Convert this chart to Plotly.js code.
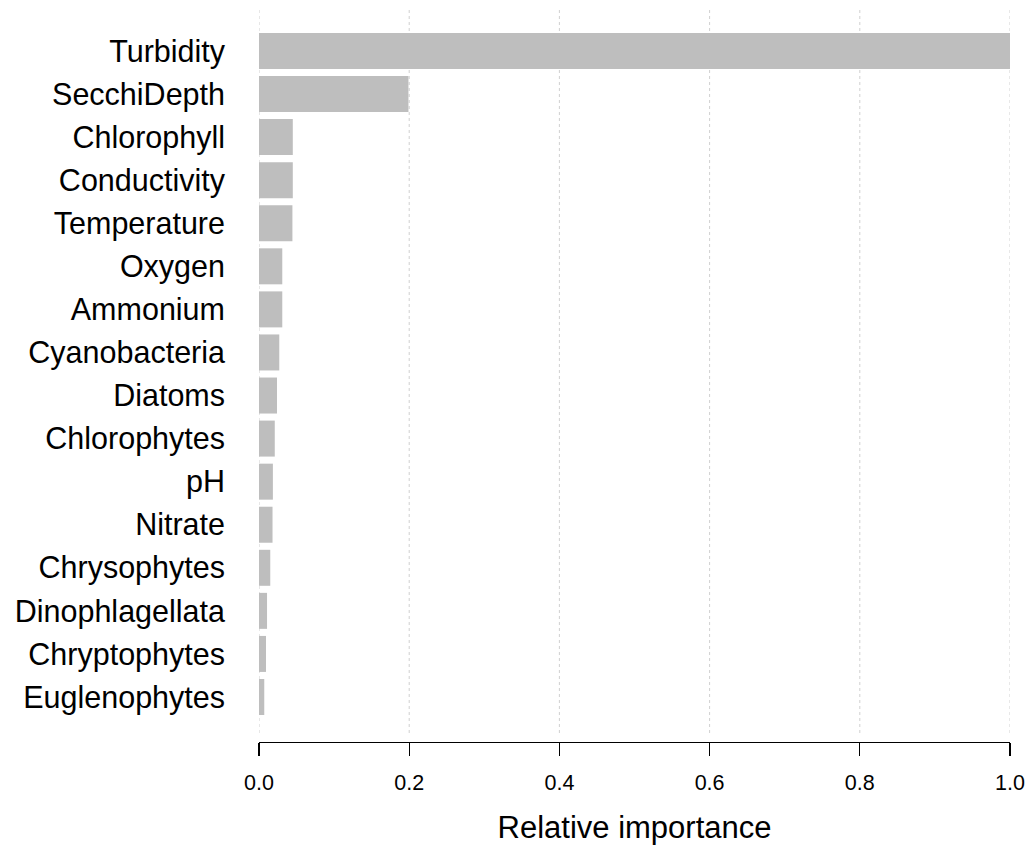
<!DOCTYPE html>
<html>
<head>
<meta charset="utf-8">
<script src="https://cdn.plot.ly/plotly-3.0.1.min.js"></script>
<style>html,body{margin:0;padding:0;background:#fff;}#chart{width:1030px;height:849px;}</style>
</head>
<body>
<div id="chart"></div>
<script>
const variables = ["Turbidity","SecchiDepth","Chlorophyll","Conductivity","Temperature","Oxygen","Ammonium","Cyanobacteria","Diatoms","Chlorophytes","pH","Nitrate","Chrysophytes","Dinophlagellata","Chryptophytes","Euglenophytes"];
const importance = [1.0,0.199,0.045,0.045,0.0445,0.031,0.031,0.027,0.024,0.021,0.0185,0.018,0.015,0.0107,0.0093,0.007];
const xTicks = [0,0.2,0.4,0.6,0.8,1.0];
const xTickLabels = ["0.0","0.2","0.4","0.6","0.8","1.0"];

const trace = {
  type: "bar",
  orientation: "h",
  x: importance,
  y: variables,
  marker: {color: "#bebebe", line: {width: 0}},
  hoverinfo: "x+y"
};

// dotted vertical grid lines at every tick (including the range ends)
const gridShapes = xTicks.map(v => ({
  type: "line", layer: "below",
  xref: "x", x0: v, x1: v,
  yref: "y domain", y0: 0, y1: 1,
  line: {color: "#d0d0d0", width: 1, dash: "dot"}
}));

const layout = {
  width: 1030, height: 849,
  margin: {l: 259, r: 20, t: 8, b: 107},
  paper_bgcolor: "#fff", plot_bgcolor: "#fff",
  bargap: 0.164,
  showlegend: false,
  font: {family: "Liberation Sans, Arial, sans-serif", color: "#000"},
  shapes: gridShapes,
  xaxis: {
    range: [0, 1],
    anchor: "free", position: 0,
    tickvals: xTicks, ticktext: xTickLabels,
    ticks: "outside", ticklen: 13, tickwidth: 1.2, tickcolor: "#000",
    ticklabelstandoff: 8,
    showline: true, linecolor: "#000", linewidth: 1.2,
    showgrid: false,
    zeroline: false,
    tickfont: {size: 21.5, color: "#000"},
    title: {text: "Relative importance", font: {size: 31, color: "#000"}, standoff: 22},
    automargin: false
  },
  yaxis: {
    type: "category",
    categoryorder: "array", categoryarray: variables,
    range: [15.836, -0.998],
    domain: [0.01226, 1],
    showgrid: false, zeroline: false, showline: false,
    ticks: "", ticklabelstandoff: 33,
    tickfont: {size: 30.5, color: "#000"},
    automargin: false
  }
};

Plotly.newPlot("chart", [trace], layout, {displayModeBar: false, staticPlot: true});
</script>
</body>
</html>
